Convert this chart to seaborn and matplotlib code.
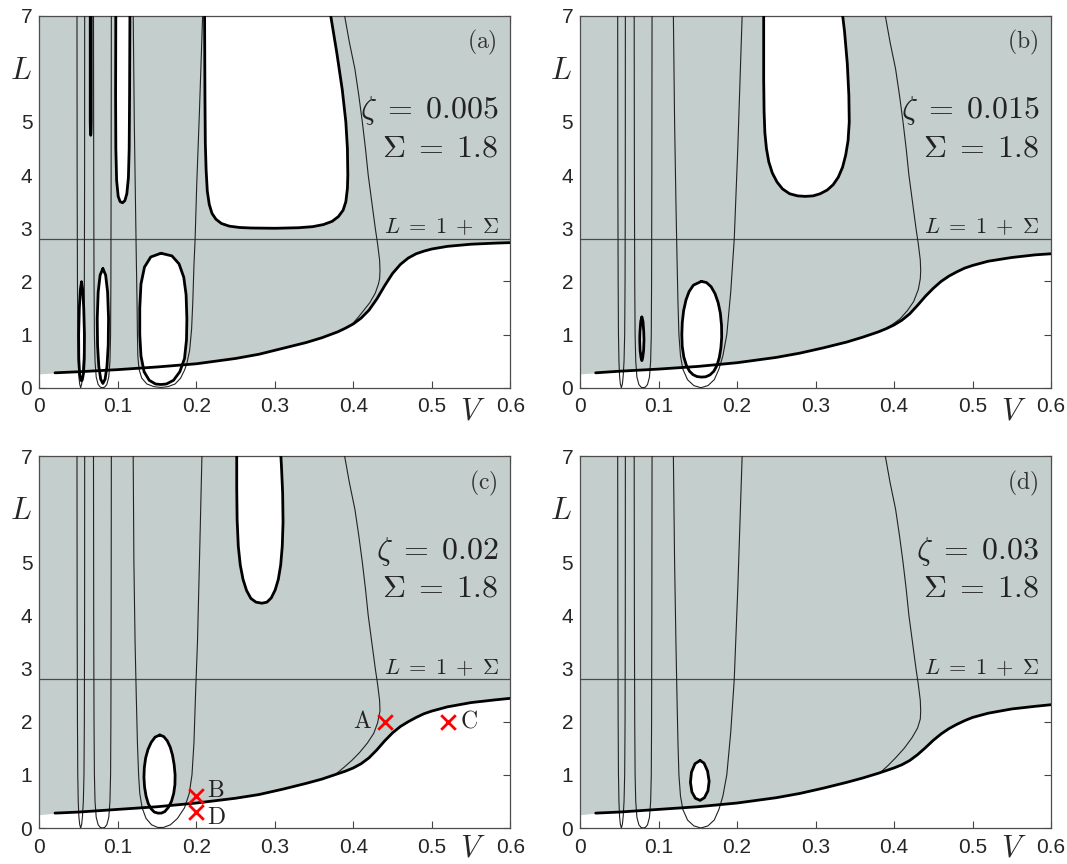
import matplotlib
matplotlib.use("Agg")
import matplotlib.pyplot as plt
import seaborn as sns

# lower boundary curve L(V) for each panel
V_LOW = [0.0, 0.02, 0.05, 0.1, 0.15, 0.2, 0.25, 0.28, 0.31, 0.34, 0.36, 0.38, 0.39,
         0.4, 0.41, 0.42, 0.43, 0.44, 0.45, 0.46, 0.47, 0.48, 0.49, 0.5, 0.52, 0.55,
         0.58, 0.6]
LOW_A = [0.26, 0.28, 0.3, 0.34, 0.39, 0.45, 0.55, 0.63, 0.74, 0.85, 0.94, 1.05, 1.12,
         1.2, 1.31, 1.46, 1.67, 1.92, 2.15, 2.32, 2.44, 2.52, 2.57, 2.61, 2.66, 2.7,
         2.72, 2.73]
LOW_B = [0.26, 0.28, 0.31, 0.35, 0.4, 0.47, 0.57, 0.65, 0.75, 0.86, 0.95, 1.05, 1.11,
         1.18, 1.27, 1.39, 1.55, 1.72, 1.87, 2.0, 2.1, 2.18, 2.25, 2.3, 2.38, 2.45,
         2.5, 2.52]
LOW_C = [0.25, 0.28, 0.3, 0.35, 0.4, 0.47, 0.56, 0.63, 0.73, 0.84, 0.92, 1.02, 1.07,
         1.13, 1.21, 1.32, 1.47, 1.64, 1.79, 1.91, 2.0, 2.08, 2.15, 2.2, 2.28, 2.36,
         2.41, 2.44]
LOW_D = [0.25, 0.28, 0.3, 0.35, 0.4, 0.47, 0.57, 0.65, 0.75, 0.86, 0.94, 1.03, 1.08,
         1.13, 1.19, 1.27, 1.38, 1.51, 1.65, 1.77, 1.87, 1.95, 2.02, 2.08, 2.16, 2.24,
         2.29, 2.32]

# thin U-shaped contours (shared by all panels)
U1_V = [0.048, 0.0482, 0.0486, 0.049, 0.0496, 0.0504, 0.0514, 0.0527, 0.054, 0.055,
        0.0561, 0.0569, 0.0574, 0.0577, 0.0578]
U1_L = [7.2, 4.0, 2.0, 1.0, 0.5, 0.22, 0.07, 0.0, 0.07, 0.22, 0.5, 1.0, 2.0, 4.0, 7.2]
U2_V = [0.069, 0.0693, 0.0697, 0.0702, 0.071, 0.0725, 0.075, 0.0778, 0.0805, 0.0832,
        0.086, 0.0885, 0.09, 0.0908, 0.0912, 0.0915, 0.0918]
U2_L = [7.2, 4.0, 2.0, 1.0, 0.5, 0.2, 0.06, 0.01, 0.0, 0.01, 0.06, 0.2, 0.5, 1.0,
        2.0, 4.0, 7.2]

# third U-shaped contour
U3A_V = [0.1195, 0.121, 0.1225, 0.1235, 0.1245, 0.125, 0.1255, 0.127, 0.1305, 0.137,
         0.146, 0.155, 0.164, 0.173, 0.18, 0.185, 0.188, 0.1915, 0.194, 0.1955, 0.197,
         0.1985, 0.2005, 0.204, 0.2085]
U3A_L = [7.2, 5.0, 3.5, 2.5, 1.6, 1.0, 0.6, 0.35, 0.18, 0.07, 0.02, 0.005, 0.02, 0.07,
         0.18, 0.33, 0.46, 0.7, 1.1, 1.6, 2.3, 2.8, 3.8, 5.2, 7.2]
U3B_V = [0.1188, 0.1205, 0.1222, 0.1235, 0.1248, 0.126, 0.128, 0.131, 0.137, 0.145,
         0.154, 0.163, 0.171, 0.177, 0.182, 0.187, 0.192, 0.1965, 0.201, 0.207]
U3B_L = [7.2, 5.0, 3.5, 2.5, 1.6, 1.0, 0.6, 0.35, 0.15, 0.04, 0.0, 0.04, 0.15, 0.35,
         0.6, 1.0, 1.8, 2.8, 4.5, 7.2]
U3C_V = [0.1195, 0.1205, 0.122, 0.1235, 0.125, 0.1265, 0.128, 0.131, 0.136, 0.143,
         0.151, 0.158, 0.167, 0.176, 0.185, 0.191, 0.1945, 0.197, 0.199, 0.2015,
         0.204, 0.2075]
U3C_L = [7.2, 5.0, 3.5, 2.5, 1.6, 1.0, 0.65, 0.38, 0.18, 0.06, 0.01, 0.01, 0.06, 0.18,
         0.38, 0.65, 1.0, 1.6, 2.5, 3.5, 5.0, 7.2]

# right-hand thin contour that merges into the lower boundary
RIGHT_V = [0.3865, 0.395, 0.402, 0.407, 0.4115, 0.4155, 0.419, 0.4235, 0.428, 0.431,
           0.4335, 0.434]
RIGHT_L = [7.2, 6.5, 6.0, 5.5, 5.0, 4.5, 4.0, 3.5, 3.0, 2.7, 2.4, 2.2]
TAIL_A_V = [0.4335, 0.432, 0.428, 0.421, 0.413, 0.406, 0.4]
TAIL_A_L = [2.05, 1.95, 1.78, 1.6, 1.45, 1.32, 1.22]
TAIL_B_V = [0.4335, 0.431, 0.425, 0.417, 0.408, 0.398, 0.388]
TAIL_B_L = [2.05, 1.85, 1.62, 1.45, 1.3, 1.19, 1.1]
TAIL_C_V = [0.4325, 0.431, 0.426, 0.418, 0.408, 0.398, 0.388, 0.379]
TAIL_C_L = [2.1, 1.98, 1.78, 1.6, 1.42, 1.27, 1.14, 1.03]
TAIL_D_V = [0.4335, 0.43, 0.423, 0.413, 0.402, 0.392, 0.383]
TAIL_D_L = [2.05, 1.88, 1.7, 1.5, 1.32, 1.17, 1.05]

# white islands (thick outlines)
ISL_A1_V = [0.0538, 0.0552, 0.0566, 0.0575, 0.0573, 0.0563, 0.0548, 0.0538, 0.0528,
            0.0513, 0.0503, 0.0501, 0.051, 0.0524, 0.0538]
ISL_A1_L = [1.99, 1.85, 1.5, 1.0, 0.55, 0.27, 0.15, 0.13, 0.15, 0.27, 0.55, 1.0, 1.5,
            1.85, 1.99]
ISL_A2_V = [0.081, 0.0845, 0.087, 0.0882, 0.0878, 0.0862, 0.0838, 0.081, 0.0782,
            0.0758, 0.0742, 0.0738, 0.075, 0.0775, 0.081]
ISL_A2_L = [2.24, 2.12, 1.8, 1.3, 0.8, 0.4, 0.16, 0.08, 0.16, 0.4, 0.8, 1.3, 1.8,
            2.12, 2.24]
ISL_A3_V = [0.155, 0.169, 0.178, 0.184, 0.187, 0.188, 0.1875, 0.185, 0.179, 0.171,
            0.162, 0.155, 0.148, 0.14, 0.1335, 0.1295, 0.128, 0.128, 0.1295, 0.134,
            0.142, 0.155]
ISL_A3_L = [2.53, 2.48, 2.33, 2.08, 1.75, 1.3, 0.9, 0.55, 0.3, 0.14, 0.07, 0.06, 0.07,
            0.14, 0.3, 0.6, 1.0, 1.5, 1.95, 2.27, 2.46, 2.53]
ISL_A4_V = [0.0975, 0.0972, 0.0975, 0.0985, 0.1005, 0.103, 0.106, 0.109, 0.1115,
            0.1135, 0.1145, 0.115, 0.1155]
ISL_A4_L = [7.2, 5.5, 4.5, 3.9, 3.6, 3.5, 3.48, 3.52, 3.65, 3.95, 4.5, 5.5, 7.2]
ISL_A5_V = [0.0649, 0.0649, 0.0652, 0.0655, 0.0658, 0.0661, 0.0661]
ISL_A5_L = [7.2, 5.0, 4.78, 4.75, 4.78, 5.0, 7.2]
ISL_A6_V = [0.2105, 0.211, 0.2115, 0.2125, 0.214, 0.2165, 0.22, 0.225, 0.232, 0.242,
            0.255, 0.27, 0.3, 0.33, 0.348, 0.362, 0.373, 0.381, 0.387, 0.3905, 0.3925,
            0.393, 0.3925, 0.3905, 0.386, 0.379, 0.369]
ISL_A6_L = [7.2, 5.5, 4.6, 4.1, 3.7, 3.45, 3.28, 3.17, 3.09, 3.04, 3.015, 3.005, 3.0,
            3.01, 3.03, 3.07, 3.13, 3.22, 3.34, 3.5, 3.75, 4.0, 4.5, 5.0, 5.6, 6.3, 7.2]

ISL_B1_V = [0.0788, 0.0802, 0.0812, 0.0815, 0.081, 0.0798, 0.0788, 0.0778, 0.0766,
            0.0761, 0.0764, 0.0774, 0.0788]
ISL_B1_L = [1.33, 1.25, 1.05, 0.9, 0.7, 0.56, 0.51, 0.56, 0.7, 0.9, 1.05, 1.25, 1.33]
ISL_B2_V = [0.1545, 0.161, 0.167, 0.172, 0.176, 0.1788, 0.1803, 0.1805, 0.1795, 0.1775,
            0.1745, 0.1705, 0.1655, 0.16, 0.1545, 0.149, 0.144, 0.1395, 0.1355, 0.1322,
            0.1302, 0.1297, 0.1303, 0.132, 0.135, 0.139, 0.1445, 0.1545]
ISL_B2_L = [2.0, 1.98, 1.9, 1.77, 1.6, 1.4, 1.17, 0.95, 0.75, 0.57, 0.42, 0.31, 0.24,
            0.205, 0.2, 0.21, 0.245, 0.31, 0.42, 0.58, 0.78, 1.0, 1.23, 1.45, 1.65,
            1.81, 1.93, 2.0]
ISL_B3_V = [0.234, 0.234, 0.2345, 0.2355, 0.2375, 0.2405, 0.245, 0.251, 0.258, 0.267,
            0.277, 0.287, 0.297, 0.306, 0.315, 0.3225, 0.329, 0.3345, 0.3385, 0.3415,
            0.343, 0.3425, 0.3405, 0.337, 0.333]
ISL_B3_L = [7.2, 5.8, 5.2, 4.8, 4.5, 4.25, 4.04, 3.87, 3.74, 3.65, 3.61, 3.6, 3.61,
            3.65, 3.72, 3.82, 3.96, 4.15, 4.38, 4.65, 5.0, 5.5, 6.1, 6.7, 7.2]

ISL_C1_V = [0.1535, 0.1585, 0.163, 0.1668, 0.1697, 0.1718, 0.173, 0.1728, 0.1712,
            0.1683, 0.1645, 0.16, 0.1555, 0.151, 0.1465, 0.1425, 0.1388, 0.136, 0.1341,
            0.1333, 0.1338, 0.1355, 0.1385, 0.1425, 0.1475, 0.1535]
ISL_C1_L = [1.75, 1.72, 1.64, 1.52, 1.37, 1.19, 1.0, 0.82, 0.65, 0.5, 0.39, 0.31, 0.28,
            0.28, 0.3, 0.36, 0.46, 0.6, 0.77, 0.95, 1.14, 1.32, 1.48, 1.61, 1.71, 1.75]
ISL_C2_V = [0.2515, 0.2515, 0.252, 0.2535, 0.256, 0.2595, 0.264, 0.2695, 0.276, 0.2835,
            0.29, 0.2955, 0.3005, 0.3045, 0.3075, 0.3095, 0.3105, 0.31, 0.3085, 0.307]
ISL_C2_L = [7.2, 6.4, 5.8, 5.3, 4.95, 4.68, 4.47, 4.32, 4.25, 4.23, 4.25, 4.33, 4.48,
            4.68, 4.95, 5.3, 5.75, 6.3, 6.8, 7.2]

ISL_D1_V = [0.153, 0.158, 0.1625, 0.1645, 0.163, 0.1585, 0.153, 0.147, 0.1425, 0.1407,
            0.142, 0.1465, 0.153]
ISL_D1_L = [1.27, 1.22, 1.07, 0.88, 0.7, 0.57, 0.52, 0.56, 0.68, 0.86, 1.05, 1.21, 1.27]

# labelled points in panel (c)
MARK_NAMES = ["A", "B", "C", "D"]
MARK_V = [0.44, 0.2, 0.52, 0.2]
MARK_L = [2.0, 0.6, 2.0, 0.3]

TAGS = ["(a)", "(b)", "(c)", "(d)"]
ZETAS = ["0.005", "0.015", "0.02", "0.03"]
X_TICKS = [0, 0.1, 0.2, 0.3, 0.4, 0.5, 0.6]
X_LABELS = ["0", "0.1", "0.2", "0.3", "0.4", "0.5", "0.6"]
Y_TICKS = [0, 1, 2, 3, 4, 5, 6, 7]
Y_LABELS = ["0", "1", "2", "3", "4", "5", "", "7"]

FILL = "#c4cecc"
sns.set_style("ticks")
plt.rcParams["font.family"] = ["Liberation Sans", "DejaVu Sans"]
plt.rcParams["mathtext.fontset"] = "cm"


def line(ax, vs, ls, lw, color="black", z=4):
    sns.lineplot(x=vs, y=ls, sort=False, estimator=None, color=color, lw=lw,
                 ax=ax, zorder=z, solid_joinstyle="round", solid_capstyle="round")


def panel(ax, lower, u3, tail, islands, tag, zeta, v_y=-0.064):
    ax.fill_between(V_LOW, lower, 7.5, color=FILL, lw=0, zorder=1)
    for vs, ls in islands:
        ax.fill(vs, ls, color="white", lw=0, zorder=2)
    ax.axhline(2.8, color="#4a4a4a", lw=0.9, zorder=3)
    for vs, ls in [(U1_V, U1_L), (U2_V, U2_L), u3,
                   (RIGHT_V + tail[0], RIGHT_L + tail[1])]:
        line(ax, vs, ls, 0.8, color="#222222", z=3)
    for vs, ls in islands:
        line(ax, vs, ls, 2.0)
    line(ax, V_LOW[1:], lower[1:], 2.0)

    ax.set_xlim(0, 0.6)
    ax.set_ylim(0, 7)
    ax.set_xticks(X_TICKS, X_LABELS)
    ax.set_yticks(Y_TICKS, Y_LABELS)
    ax.tick_params(direction="in", length=5, width=0.8, color="#444444",
                   top=True, right=True, labelsize=15)
    ax.tick_params(axis="x", pad=7)
    ax.tick_params(axis="y", pad=5)
    for s in ax.spines.values():
        s.set_color("#4d4d4d")
        s.set_linewidth(0.9)
    ax.set_xlabel("")
    ax.set_ylabel("")

    ax.text(0.972, 0.927, r"$\mathrm{" + tag + "}$", transform=ax.transAxes,
            ha="right", va="center", fontsize=17, color="#333333")
    ax.text(0.975, 0.744, r"$\zeta\;=\;" + zeta + "$", transform=ax.transAxes,
            ha="right", va="center", fontsize=23, color="#222222")
    ax.text(0.975, 0.644, r"$\Sigma\;=\;1.8$", transform=ax.transAxes,
            ha="right", va="center", fontsize=23, color="#222222")
    ax.text(0.975, 2.9, r"$L\;=\;1\;+\;\Sigma$", transform=ax.get_yaxis_transform(),
            ha="right", va="baseline", fontsize=16, color="#222222")
    ax.text(-0.04, 0.852, r"$L$", transform=ax.transAxes, ha="center",
            va="center", fontsize=22)
    ax.text(0.92, v_y, r"$V$", transform=ax.transAxes, ha="center",
            va="center", fontsize=22)


fig = plt.figure(figsize=(10.67, 8.64), dpi=100)
W, H = 471 / 1067, 372 / 864
ax_a = fig.add_axes([39.3 / 1067, 1 - 387.7 / 864, W, H])
ax_b = fig.add_axes([580 / 1067, 1 - 387.7 / 864, W, H])
ax_c = fig.add_axes([39.3 / 1067, 1 - 828 / 864, W, H])
ax_d = fig.add_axes([580 / 1067, 1 - 828 / 864, W, H])

panel(ax_a, LOW_A, (U3A_V, U3A_L), (TAIL_A_V, TAIL_A_L),
      [(ISL_A1_V, ISL_A1_L), (ISL_A2_V, ISL_A2_L), (ISL_A3_V, ISL_A3_L),
       (ISL_A4_V, ISL_A4_L), (ISL_A5_V, ISL_A5_L), (ISL_A6_V, ISL_A6_L)],
      TAGS[0], ZETAS[0])
panel(ax_b, LOW_B, (U3B_V, U3B_L), (TAIL_B_V, TAIL_B_L),
      [(ISL_B1_V, ISL_B1_L), (ISL_B2_V, ISL_B2_L), (ISL_B3_V, ISL_B3_L)],
      TAGS[1], ZETAS[1])
panel(ax_c, LOW_C, (U3C_V, U3C_L), (TAIL_C_V, TAIL_C_L),
      [(ISL_C1_V, ISL_C1_L), (ISL_C2_V, ISL_C2_L)],
      TAGS[2], ZETAS[2], v_y=-0.056)
panel(ax_d, LOW_D, (U3B_V, U3B_L), (TAIL_D_V, TAIL_D_L),
      [(ISL_D1_V, ISL_D1_L)],
      TAGS[3], ZETAS[3], v_y=-0.056)

# red crosses with labels in panel (c)
sns.scatterplot(x=MARK_V, y=MARK_L, marker="x", color="red", s=110, linewidth=2,
                ax=ax_c, zorder=6)
offsets = {"A": (-9, 0, "right", "center"), "B": (8, 4, "left", "center"),
           "C": (9, 0, "left", "center"), "D": (8, -4, "left", "center")}
for name, v, l in zip(MARK_NAMES, MARK_V, MARK_L):
    dx, dy, ha, va = offsets[name]
    ax_c.annotate(r"$\mathrm{" + name + "}$", (v, l), xytext=(dx, dy),
                  textcoords="offset points", ha=ha, va=va, fontsize=17,
                  color="#222222", zorder=7)
ax_c.set_xlabel("")
ax_c.set_ylabel("")

fig.savefig("out.png", dpi=100)
